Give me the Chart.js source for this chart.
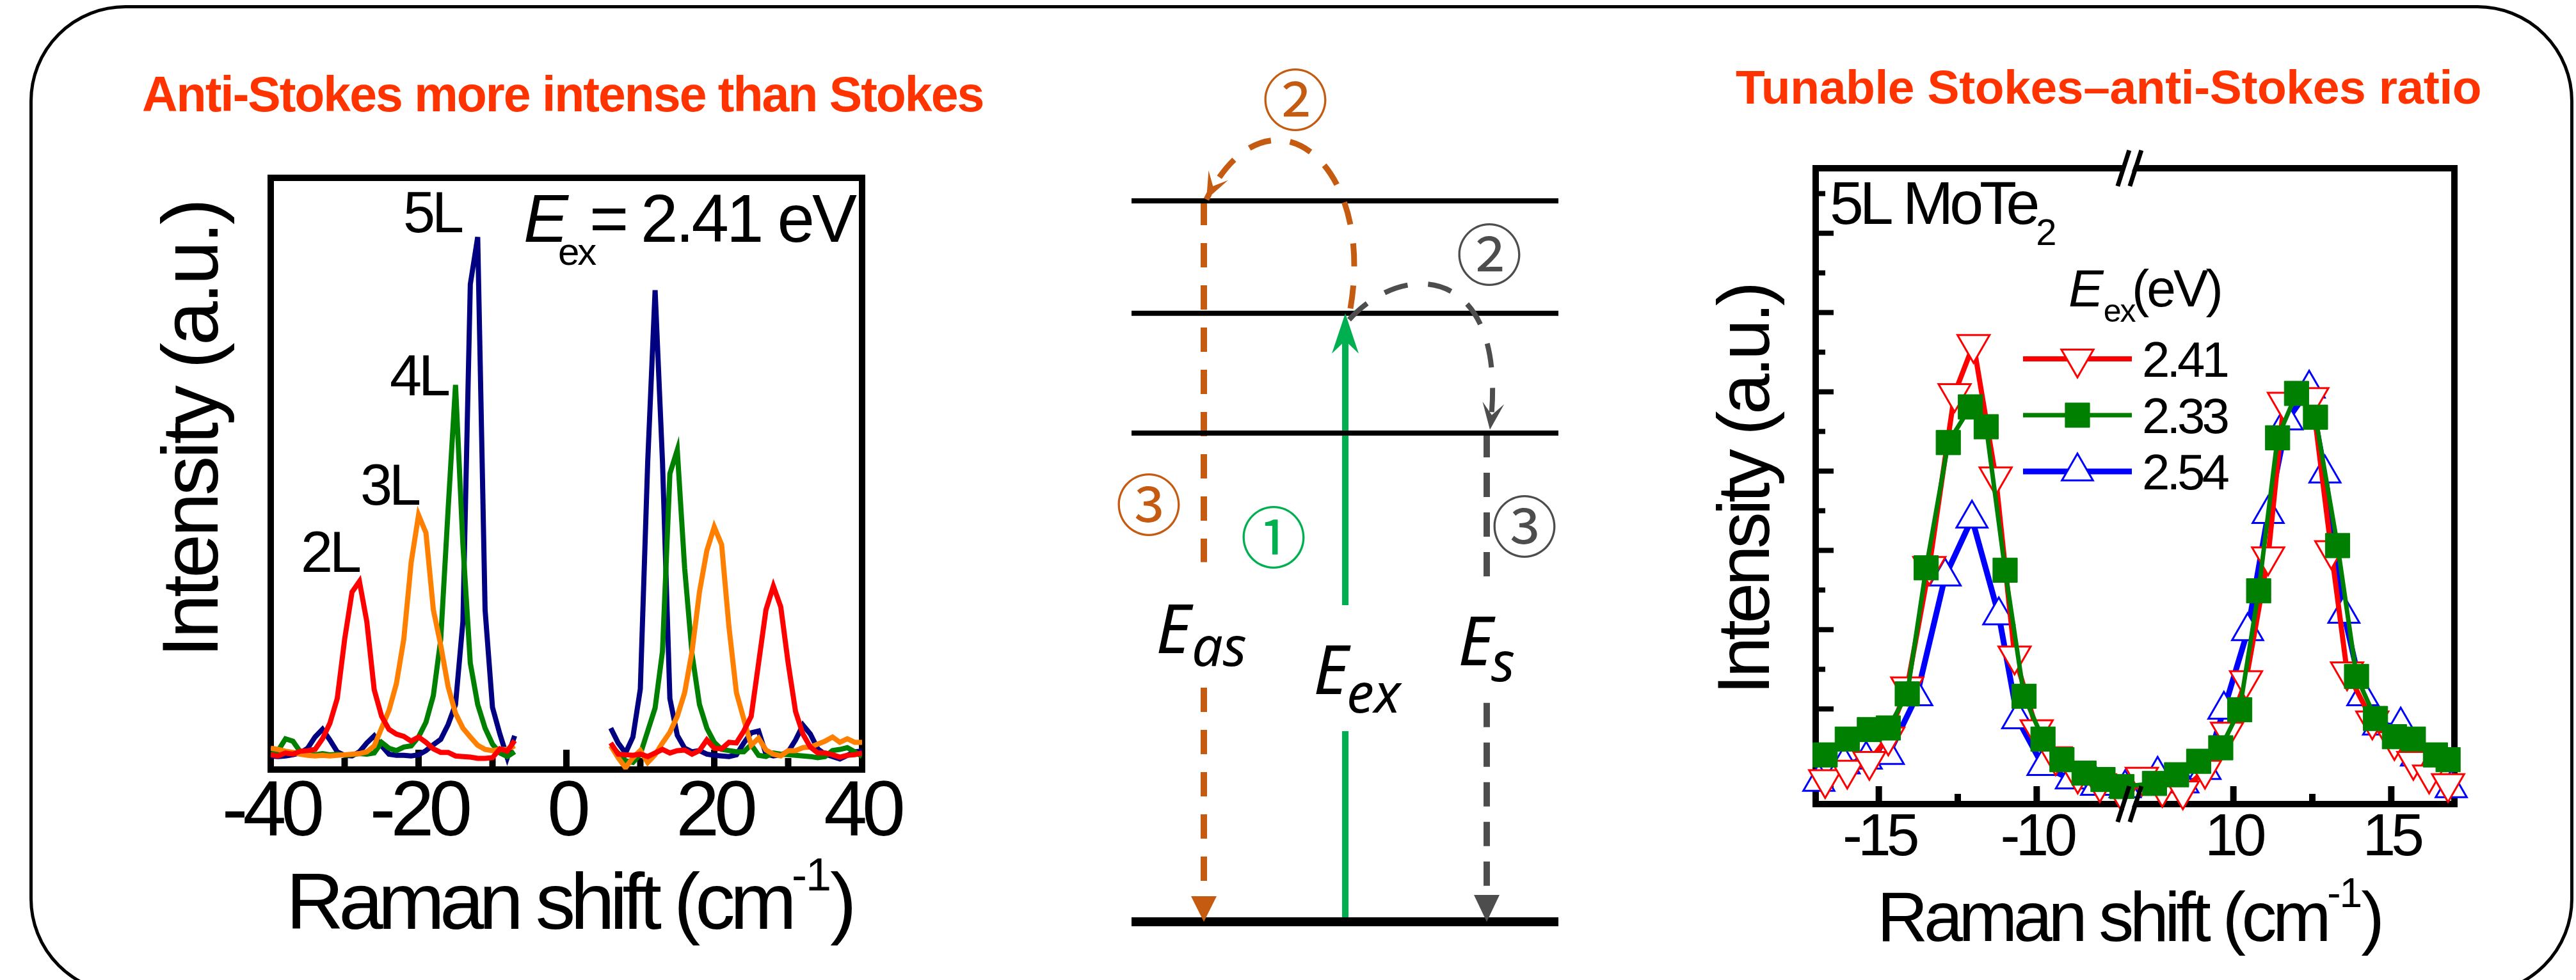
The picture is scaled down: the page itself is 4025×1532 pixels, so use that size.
<!DOCTYPE html>
<html>
<head>
<meta charset="utf-8">
<script src="https://cdn.jsdelivr.net/npm/chart.js@4.4.1/dist/chart.umd.min.js"></script>
<style>
  html, body { margin: 0; padding: 0; background: #fff; }
  body { width: 4025px; height: 1532px; position: relative; overflow: hidden; }
  .frame { position: absolute; left: 46px; top: 8px; width: 3975px; height: 1547px;
           box-sizing: border-box; border: 5px solid #000; border-radius: 150px; }
  .head { position: absolute; font-family: 'Liberation Sans', Arial, sans-serif; font-weight: bold;
          color: #FF3300; white-space: nowrap; line-height: 1; }
  canvas { position: absolute; }
</style>
</head>
<body>
<div class="frame"></div>
<div class="head" style="left:222px; top:109px; font-size:77px; letter-spacing:-2px;">Anti-Stokes more intense than Stokes</div>
<div class="head" style="left:2712px; top:99px; font-size:75px; letter-spacing:-0.4px;">Tunable Stokes–anti-Stokes ratio</div>

<canvas id="cL" width="1250" height="1332" style="left:200px; top:200px;"></canvas>
<canvas id="cM" width="1000" height="1532" style="left:1600px; top:0px;"></canvas>
<canvas id="cR" width="1350" height="1332" style="left:2600px; top:200px;"></canvas>

<script>
// ---- left panel: Raman spectra of 2L-5L MoTe2, E_ex = 2.41 eV ----
const AS_SHIFT = [-40,-39,-38,-37,-36,-35,-34,-33,-32,-31,-30,-29,-28,-27,-26,-25,-24,-23,-22,-21,
                  -20,-19,-18,-17,-16,-15,-14,-13,-12,-11,-10,-9,-8,-7];
const S_SHIFT = [6,7,8,9,10,11,12,13,14,15,16,17,18,19,20,21,22,23,24,25,
                 26,27,28,29,30,31,32,33,34,35,36,37,38,39,40];

const L2_AS = [2.5,2.3,2.8,2.6,3.1,3.2,3.4,5.2,7.8,12, 22,30,31.8,25,13.5,9,6.8,6,5.6,4.8,
               5.5,4.6,3.5,2.9,2.9,2.3,2.2,2.1,1.9,1.9, 2,3.5,3.1,4.9];
const L3_AS = [3.6,3.4,3.1,2.9,2.6,2.4,2.3,2.4,2.3,2.4, 2.5,2.6,2.7,3.0,4,7,10,14.5,22,35,
               43,40,27,21,14,9.5,7,5.5,4.1,3.4, 3.2,3.4,3.4,4];
const L4_AS = [2.5,3.2,5.2,4.8,3,2.7,2.5,2.7,2.5,2.6, 2.4,2.5,2.7,2.6,2.8,4.6,3.6,3.2,3.8,4,
               5.5,8,12.5,22,44,65,38,18,11,7, 4.3,2.8,2.2,3];
const L5_AS = [2.3,2.2,2.3,2.5,2.8,3.6,5.5,6.8,5,3, 2.4,2.3,3,4.5,5.7,4,2.6,2.4,2.4,2.3,
               2.5,3.2,4.2,5.1,7.6,11,25,82,90,27, 10.5,6,2,5.7];

const L2_S = [4.5,2.6,2.5,2.4,2.6,2.2,2.8,3.4,2.8,3.2, 3.3,2.6,3.2,5,3.6,3.5,4.6,4.5,6.5,9,
              18,27,31,27.5,18,9.8,6,3.8,2.8,2.8, 2.5,2.1,2.4,2.5,2.8];
const L3_S = [4,2,0.3,2,3.2,1.2,2.5,4.5,6.3,9, 13,20,30,37,41,38,24,13,8.5,4.1,
              5.3,3.3,2.6,2.3,3.2,3.2,3.7,3.8,4.3,4.8, 5.5,4.6,5.2,4.6,4.6];
const L4_S = [4,2.8,1.5,1.2,2.6,6.5,10.4,20,50,54, 34,19.5,11,7,4.6,3.4,3.2,3,3,4.2,
              2.4,2.2,2.8,2.6,2.5,2.4,2.3,2.2,2,2.2, 3.2,3.4,3.7,3,2.2];
const L5_S = [7,4.5,2.8,5.5,13.6,52,81,52,12,5.8, 3.6,3,3.2,2.6,2.4,2.3,2.2,2.5,4.5,6.2,
              6.5,2.6,2.3,2.5,3,5,7.5,6,3.5,2.6, 2.2,1.8,2.4,3,3.1];

const LAYER_NAMES = ['2L', '3L', '4L', '5L'];
const LAYER_AS = [L2_AS, L3_AS, L4_AS, L5_AS];
const LAYER_S = [L2_S, L3_S, L4_S, L5_S];
const LAYER_COLORS = ['#FF0000', '#FF8000', '#008000', '#000080'];
const LX_MIN = -40, LX_MAX = 40, LX_STEP = 10;

// ---- right panel: 5L MoTe2 at three excitation energies ----
const EX_LABELS = ['2.41', '2.33', '2.54'];
const R241_X = [-16.7,-16.0,-15.3,-14.7,-14.1,-13.4,-12.6,-12.0,-11.3,-10.7,-10.0,-9.4,-8.7,-8.0,-7.3,
                7.1,7.75,8.4,9.1,9.8,10.4,11.1,11.6,12.5,13.1,13.6,14.4,15.1,15.7,16.2,16.8];
const R241_Y = [0.11,0.23,0.34,0.65,1.28,2.8,4.98,5.6,3.93,1.67,0.74,0.4,0.17,0.06,-0.06,
                0.14,0.0,-0.03,0.23,0.71,1.36,2.92,4.87,4.93,3.0,1.47,0.85,0.59,0.34,0.17,0.06];
const R233_X = [-16.7,-16.0,-15.3,-14.7,-14.1,-13.5,-12.8,-12.1,-11.6,-11.0,-10.4,-9.8,-9.2,-8.5,-7.9,-7.3,
                7.5,8.2,8.9,9.6,10.2,10.8,11.4,12.0,12.6,13.3,13.9,14.5,15.1,15.7,16.4,16.8];
const R233_Y = [0.42,0.62,0.74,0.76,1.19,2.78,4.36,4.81,4.56,2.75,1.16,0.62,0.36,0.19,0.11,0.02,
                0.06,0.17,0.34,0.51,0.99,2.49,4.42,4.98,4.68,3.06,1.41,0.88,0.65,0.62,0.42,0.36];
const R254_X = [-16.9,-16.1,-15.4,-14.7,-13.8,-12.9,-12.05,-11.2,-10.6,-9.8,-8.9,-8.1,-7.2,
                7.6,8.4,9.1,9.7,10.45,11.1,11.7,12.4,12.9,13.5,14.1,14.6,15.3,15.8,16.5,16.9];
const R254_Y = [0.08,0.3,0.36,0.42,1.16,2.67,3.4,2.18,0.87,0.28,0.11,0.03,0.0,
                0.17,0.06,0.23,0.99,1.98,3.46,4.64,5.04,3.97,2.2,1.16,0.79,0.79,0.4,0.23,0.0];
const RX_TICKS = [-15, -12.5, -10, 10, 12.5, 15];
const RX_LABELS = [-15, -10, 10, 15];
const RY_TICKS = [0,0.5,1,1.5,2,2.5,3,3.5,4,4.5,5,5.5,6,6.5,7,7.5];
const RY_RANGE = [-0.2, 7.82];
const SEG_L = [-17, -7.05], SEG_R = [6.72, 17];   // the two pieces of the broken x axis

// ---- middle panel: energy level scheme ----
const LEVEL_E = [0, 10, 12.45, 14.75];            // ground, Stokes end, excited, anti-Stokes end
const LEVEL_SPAN = [16.8, 83.5];
const COL_AS = 28.1, COL_EX = 50.2, COL_S = 72.3;
const GAP_AS = [4.79, 7.36], GAP_EX = [3.9, 6.48], GAP_S = [4.48, 7.03];

const FONT = "'Liberation Sans', Arial, sans-serif";
const ORANGE = '#C55A11', GRAY = '#4D4D4D', GREEN = '#00B050';

const BREAK_U = SEG_L[1] - SEG_L[0];
const U_MAX = BREAK_U + SEG_R[1] - SEG_R[0];
function toU(x) { return x < 0 ? x - SEG_L[0] : BREAK_U + x - SEG_R[0]; }
function fromU(u) { return u <= BREAK_U ? u + SEG_L[0] : u - BREAK_U + SEG_R[0]; }

function setLS(ctx, v) { if ('letterSpacing' in ctx) ctx.letterSpacing = (v || 0) + 'px'; }

function drawText(ctx, item) {
  ctx.save();
  ctx.fillStyle = item.color || '#000';
  if (item.rot) {
    // rotated title, item.y is where the text starts (bottom end)
    ctx.translate(item.x, item.y);
    ctx.rotate(-Math.PI / 2);
    ctx.textAlign = 'left';
    ctx.font = item.font;
    setLS(ctx, item.ls);
    ctx.fillText(item.t, 0, item.cap / 2);
  } else if (item.center) {
    ctx.textAlign = 'center';
    ctx.textBaseline = 'middle';
    ctx.font = item.font;
    setLS(ctx, 0);
    ctx.fillText(item.t, item.x, item.y);
  } else {
    let x = item.x;
    item.runs.forEach(r => {
      ctx.font = r.font;
      setLS(ctx, r.ls);
      if (r.x !== undefined) x = r.x;
      ctx.fillText(r.t, x, item.y + (r.dy || 0));
      x += ctx.measureText(r.t).width;
    });
  }
  ctx.restore();
}

function notesPlugin(origin, items) {
  return {
    id: 'notes',
    afterDraw(chart) {
      const ctx = chart.ctx;
      ctx.save();
      ctx.translate(-origin[0], -origin[1]);
      items.forEach(it => drawText(ctx, it));
      ctx.restore();
    }
  };
}

function spacingPlugin(ls) {
  return { id: 'spacing', beforeDraw(chart) { setLS(chart.ctx, ls); } };
}

// frame around the plot and inward tick marks
function framePlugin(cfg) {
  return {
    id: 'frame',
    beforeDatasetsDraw(chart) {
      const {ctx, chartArea: a} = chart;
      ctx.save();
      ctx.strokeStyle = '#000';
      ctx.lineWidth = 10;
      ctx.strokeRect(a.left, a.top, a.right - a.left, a.bottom - a.top);
      const xs = chart.scales.x;
      xs.ticks.forEach(t => {
        const px = xs.getPixelForValue(t.value);
        const len = (t.label !== '' && t.label != null) ? cfg.xMajor : cfg.xMinor;
        ctx.beginPath(); ctx.moveTo(px, a.bottom); ctx.lineTo(px, a.bottom - len); ctx.stroke();
      });
      if (cfg.yTicks) {
        const ys = chart.scales.y;
        ctx.lineWidth = 8;
        cfg.yTicks.forEach(v => {
          const py = ys.getPixelForValue(v);
          const len = Number.isInteger(v) ? cfg.yMajor : cfg.yMinor;
          ctx.beginPath(); ctx.moveTo(a.left, py); ctx.lineTo(a.left + len, py); ctx.stroke();
        });
      }
      ctx.restore();
    }
  };
}

// "//" marks where the right-hand x axis is broken
const breakPlugin = {
  id: 'axisBreak',
  afterDatasetsDraw(chart) {
    const {ctx, chartArea: a} = chart;
    const px = chart.scales.x.getPixelForValue(BREAK_U);
    ctx.save();
    [a.top, a.bottom].forEach(y0 => {
      ctx.fillStyle = '#fff';
      ctx.beginPath();
      ctx.moveTo(px - 12, y0 + 8); ctx.lineTo(px + 2, y0 + 8);
      ctx.lineTo(px + 8, y0 - 8); ctx.lineTo(px - 6, y0 - 8); ctx.closePath(); ctx.fill();
      ctx.strokeStyle = '#000';
      ctx.lineWidth = 7;
      [-10, 9].forEach(off => {
        ctx.beginPath();
        ctx.moveTo(px + off - 9, y0 + 28); ctx.lineTo(px + off + 9, y0 - 28); ctx.stroke();
      });
    });
    ctx.restore();
  }
};

function drawMarker(ctx, style, r, rot, x, y) {
  ctx.beginPath();
  if (style === 'rect') {
    const s = Math.SQRT1_2 * r;
    ctx.rect(x - s, y - s, 2 * s, 2 * s);
  } else {
    let rad = rot * Math.PI / 180;
    ctx.moveTo(x + Math.sin(rad) * r, y - Math.cos(rad) * r);
    rad += 2 * Math.PI / 3;
    ctx.lineTo(x + Math.sin(rad) * r, y - Math.cos(rad) * r);
    rad += 2 * Math.PI / 3;
    ctx.lineTo(x + Math.sin(rad) * r, y - Math.cos(rad) * r);
    ctx.closePath();
  }
  ctx.fill();
  ctx.stroke();
}

// legend inside the right plot
const LEG_ROWS = [561, 649, 737], LEG_LINE = [3161, 3331], LEG_MARK_X = 3246, LEG_TEXT_X = 3347;
const R_ORIGIN = [2600, 200];
const legendPlugin = {
  id: 'exLegend',
  afterDatasetsDraw(chart) {
    const ctx = chart.ctx;
    ctx.save();
    ctx.translate(-R_ORIGIN[0], -R_ORIGIN[1]);
    EX_LABELS.forEach((lab, i) => {
      const ds = chart.data.datasets.find(d => d.label === lab);
      const y = LEG_ROWS[i];
      ctx.strokeStyle = ds.borderColor;
      ctx.lineWidth = ds.borderWidth;
      ctx.beginPath(); ctx.moveTo(LEG_LINE[0], y); ctx.lineTo(LEG_LINE[1], y); ctx.stroke();
      ctx.fillStyle = ds.pointBackgroundColor;
      ctx.strokeStyle = ds.pointBorderColor;
      ctx.lineWidth = ds.pointBorderWidth;
      drawMarker(ctx, ds.pointStyle, ds.pointRadius, ds.pointRotation || 0, LEG_MARK_X, y);
      ctx.fillStyle = '#000';
      ctx.font = '78px ' + FONT;
      setLS(ctx, -5);
      ctx.fillText(lab, LEG_TEXT_X, y + 28);
    });
    ctx.restore();
  }
};

// ---------------- left chart ----------------
const leftSets = LAYER_NAMES.map((name, i) => ({
  label: name,
  data: AS_SHIFT.map((x, j) => ({x, y: LAYER_AS[i][j]}))
        .concat([{x: 0, y: null}])
        .concat(S_SHIFT.map((x, j) => ({x, y: LAYER_S[i][j]}))),
  borderColor: LAYER_COLORS[i],
  borderWidth: 8,
  pointRadius: 0,
  tension: 0,
  spanGaps: false
}));

new Chart(document.getElementById('cL'), {
  type: 'line',
  data: { datasets: leftSets },
  options: {
    responsive: false, animation: false, devicePixelRatio: 1, events: [],
    layout: { padding: { left: 223, top: 78, right: 103, bottom: 0 }, autoPadding: false },
    plugins: { legend: { display: false }, tooltip: { enabled: false } },
    scales: {
      x: {
        type: 'linear', min: LX_MIN, max: LX_MAX,
        afterFit: s => { s.height = 329; },
        grid: { display: false, drawTicks: false }, border: { display: false },
        ticks: {
          stepSize: LX_STEP, autoSkip: false, maxRotation: 0, padding: 8, color: '#000',
          font: { family: FONT, size: 122, lineHeight: 1 },
          callback: v => (v % 20 === 0 ? String(v) : '')
        }
      },
      y: { display: false, min: 0, max: 100 }
    }
  },
  plugins: [
    spacingPlugin(-8),
    framePlugin({ xMajor: 31, xMinor: 18 }),
    notesPlugin([200, 200], [
      { x: 630, y: 363, runs: [{ t: '5L', font: '90px ' + FONT, ls: -5 }] },
      { x: 609, y: 618, runs: [{ t: '4L', font: '90px ' + FONT, ls: -5 }] },
      { x: 563, y: 789, runs: [{ t: '3L', font: '90px ' + FONT, ls: -5 }] },
      { x: 470, y: 894, runs: [{ t: '2L', font: '90px ' + FONT, ls: -5 }] },
      { x: 818, y: 378, runs: [
        { t: 'E', font: 'italic 105px ' + FONT },
        { t: 'ex', font: '60px ' + FONT, dy: 36, x: 872, ls: -3 },
        { t: '=', font: '105px ' + FONT, x: 921 },
        { t: '2.41 eV', font: '105px ' + FONT, x: 1001, ls: -4 }
      ] },
      { rot: true, x: 295, y: 1028, t: 'Intensity (a.u.)', font: '124px ' + FONT, ls: -4.5, cap: 89 },
      { x: 447, y: 1452, runs: [
        { t: 'Raman shift (cm', font: '125px ' + FONT, ls: -8 },
        { t: '-1', font: '72px ' + FONT, dy: -60, ls: -2 },
        { t: ')', font: '125px ' + FONT, ls: -8 }
      ] }
    ])
  ]
});

// ---------------- right chart ----------------
function rSet(label, xs, ys, color, style, rot, radius, fill, lw, order) {
  return {
    label,
    data: xs.map((x, j) => ({ x: toU(x), y: ys[j] })),
    borderColor: color, borderWidth: lw, tension: 0,
    pointStyle: style, pointRotation: rot, pointRadius: radius,
    pointBackgroundColor: fill, pointBorderColor: color, pointBorderWidth: style === 'rect' ? 1 : 3,
    clip: false, order
  };
}

new Chart(document.getElementById('cR'), {
  type: 'line',
  data: { datasets: [
    rSet(EX_LABELS[0], R241_X, R241_Y, '#FF0000', 'triangle', 180, 29, '#FFFFFF', 8, 1),
    rSet(EX_LABELS[1], R233_X, R233_Y, '#008000', 'rect', 0, 27, '#008000', 7, 0),
    rSet(EX_LABELS[2], R254_X, R254_Y, '#0000FF', 'triangle', 0, 28, '#FFFFFF', 9, 2)
  ] },
  options: {
    responsive: false, animation: false, devicePixelRatio: 1, events: [],
    layout: { padding: { left: 237, top: 63, right: 115, bottom: 0 }, autoPadding: false },
    plugins: { legend: { display: false }, tooltip: { enabled: false } },
    scales: {
      x: {
        type: 'linear', min: 0, max: U_MAX,
        afterBuildTicks: s => { s.ticks = RX_TICKS.map(v => ({ value: toU(v) })); },
        afterFit: s => { s.height = 275; },
        grid: { display: false, drawTicks: false }, border: { display: false },
        ticks: {
          autoSkip: false, maxRotation: 0, padding: 8, color: '#000',
          font: { family: FONT, size: 93, lineHeight: 1 },
          callback: v => {
            const x = Math.round(fromU(v) * 10) / 10;
            return RX_LABELS.includes(x) ? String(x) : '';
          }
        }
      },
      y: { display: false, min: RY_RANGE[0], max: RY_RANGE[1] }
    }
  },
  plugins: [
    spacingPlugin(-7),
    framePlugin({ xMajor: 28, xMinor: 16, yTicks: RY_TICKS, yMajor: 28, yMinor: 15 }),
    breakPlugin,
    legendPlugin,
    notesPlugin(R_ORIGIN, [
      { x: 2859, y: 350, runs: [
        { t: '5L MoTe', font: '95px ' + FONT, ls: -6 },
        { t: '2', font: '58px ' + FONT, dy: 33 }
      ] },
      { x: 3232, y: 479, runs: [
        { t: 'E', font: 'italic 82px ' + FONT },
        { t: 'ex', font: '50px ' + FONT, dy: 24, ls: -2 },
        { t: '(eV)', font: '82px ' + FONT, x: 3331, ls: -4 }
      ] },
      { rot: true, x: 2723, y: 1086, t: 'Intensity (a.u.)', font: '115px ' + FONT, ls: -5.5, cap: 82 },
      { x: 2933, y: 1471, runs: [
        { t: 'Raman shift (cm', font: '110px ' + FONT, ls: -6.5 },
        { t: '-1', font: '64px ' + FONT, dy: -53, ls: -2 },
        { t: ')', font: '110px ' + FONT }
      ] }
    ])
  ]
});

// ---------------- middle: energy diagram ----------------
const seg = (x, y0, y1) => [{ x, y: y0 }, { x, y: y1 }];
const ORANGE_ARC = [[51.0, 12.55], [55.0, 15.59], [38.0, 17.29], [28.5, 14.78]];
const GRAY_ARC = [[50.8, 12.32], [60.0, 13.63], [76.0, 13.36], [72.8, 10.07]];

const diagramPlugin = {
  id: 'diagram',
  afterDatasetsDraw(chart) {
    const { ctx } = chart;
    const xs = chart.scales.x, ys = chart.scales.y;
    const P = ([x, y]) => [xs.getPixelForValue(x), ys.getPixelForValue(y)];
    function head(tip, from, len, hw, notch, color) {
      const dx0 = tip[0] - from[0], dy0 = tip[1] - from[1];
      const d = Math.hypot(dx0, dy0), dx = dx0 / d, dy = dy0 / d, nx = -dy, ny = dx;
      const bx = tip[0] - dx * len, by = tip[1] - dy * len;
      ctx.fillStyle = color;
      ctx.beginPath();
      ctx.moveTo(tip[0], tip[1]);
      ctx.lineTo(bx + nx * hw, by + ny * hw);
      ctx.lineTo(tip[0] - dx * len * notch, tip[1] - dy * len * notch);
      ctx.lineTo(bx - nx * hw, by - ny * hw);
      ctx.closePath();
      ctx.fill();
    }
    ctx.save();
    [[ORANGE_ARC, ORANGE, 9, [36, 30]], [GRAY_ARC, GRAY, 8, [38, 32]]].forEach(([arc, color, lw, dash]) => {
      const p = arc.map(P);
      ctx.strokeStyle = color; ctx.lineWidth = lw; ctx.setLineDash(dash);
      ctx.beginPath();
      ctx.moveTo(p[0][0], p[0][1]);
      ctx.bezierCurveTo(p[1][0], p[1][1], p[2][0], p[2][1], p[3][0], p[3][1]);
      ctx.stroke();
      ctx.setLineDash([]);
      head(p[3], p[2], 42, 17, 0.55, color);
    });
    head(P([COL_AS, 0]), P([COL_AS, 5]), 40, 20, 1, ORANGE);
    head(P([COL_S, 0]), P([COL_S, 5]), 42, 20, 1, GRAY);
    head(P([COL_EX, LEVEL_E[2]]), P([COL_EX, 5]), 63, 21, 0.68, GREEN);
    ctx.restore();
  }
};

const CJK = "'Noto Sans CJK SC', 'DejaVu Sans', sans-serif";
const ITAL = "italic 106px 'Noto Sans', 'DejaVu Sans', sans-serif";
const ITAL_SUB = "italic 86px 'Noto Sans', 'DejaVu Sans', sans-serif";

new Chart(document.getElementById('cM'), {
  type: 'line',
  data: { datasets: [
    ...LEVEL_E.map((e, i) => ({
      data: [{ x: LEVEL_SPAN[0], y: e }, { x: LEVEL_SPAN[1], y: e }],
      borderColor: '#000', borderWidth: i === 0 ? 14 : 8
    })),
    { data: seg(COL_EX, 0, GAP_EX[0]), borderColor: GREEN, borderWidth: 10 },
    { data: seg(COL_EX, GAP_EX[1], LEVEL_E[2] - 0.55), borderColor: GREEN, borderWidth: 10 },
    { data: seg(COL_AS, LEVEL_E[3], GAP_AS[1]), borderColor: ORANGE, borderWidth: 10, borderDash: [38, 28] },
    { data: seg(COL_AS, GAP_AS[0], 0.5), borderColor: ORANGE, borderWidth: 10, borderDash: [38, 28] },
    { data: seg(COL_S, LEVEL_E[1], GAP_S[1]), borderColor: GRAY, borderWidth: 10, borderDash: [38, 24] },
    { data: seg(COL_S, GAP_S[0], 0.55), borderColor: GRAY, borderWidth: 10, borderDash: [38, 24] }
  ].map(d => Object.assign({ pointRadius: 0, borderCapStyle: 'butt', clip: false, tension: 0 }, d)) },
  options: {
    responsive: false, animation: false, devicePixelRatio: 1, events: [],
    layout: { padding: 0, autoPadding: false },
    plugins: { legend: { display: false }, tooltip: { enabled: false } },
    scales: {
      x: { type: 'linear', display: false, min: 0, max: 100 },
      y: { type: 'linear', display: false, min: -1.19, max: 18.86 }
    }
  },
  plugins: [
    diagramPlugin,
    notesPlugin([1600, 0], [
      { center: true, x: 2024, y: 156, t: '②', font: '104px ' + CJK, color: ORANGE },
      { center: true, x: 2327, y: 398, t: '②', font: '104px ' + CJK, color: GRAY },
      { center: true, x: 1795, y: 789, t: '③', font: '104px ' + CJK, color: ORANGE },
      { center: true, x: 1990, y: 840, t: '①', font: '104px ' + CJK, color: GREEN },
      { center: true, x: 2382, y: 823, t: '③', font: '104px ' + CJK, color: GRAY },
      { x: 1806, y: 1021, runs: [{ t: 'E', font: ITAL }, { t: 'as', font: ITAL_SUB, dy: 20, x: 1862 }] },
      { x: 2052, y: 1085, runs: [{ t: 'E', font: ITAL }, { t: 'ex', font: ITAL_SUB, dy: 29, x: 2104 }] },
      { x: 2278, y: 1040, runs: [{ t: 'E', font: ITAL }, { t: 's', font: ITAL_SUB, dy: 25, x: 2330 }] }
    ])
  ]
});
</script>
</body>
</html>
